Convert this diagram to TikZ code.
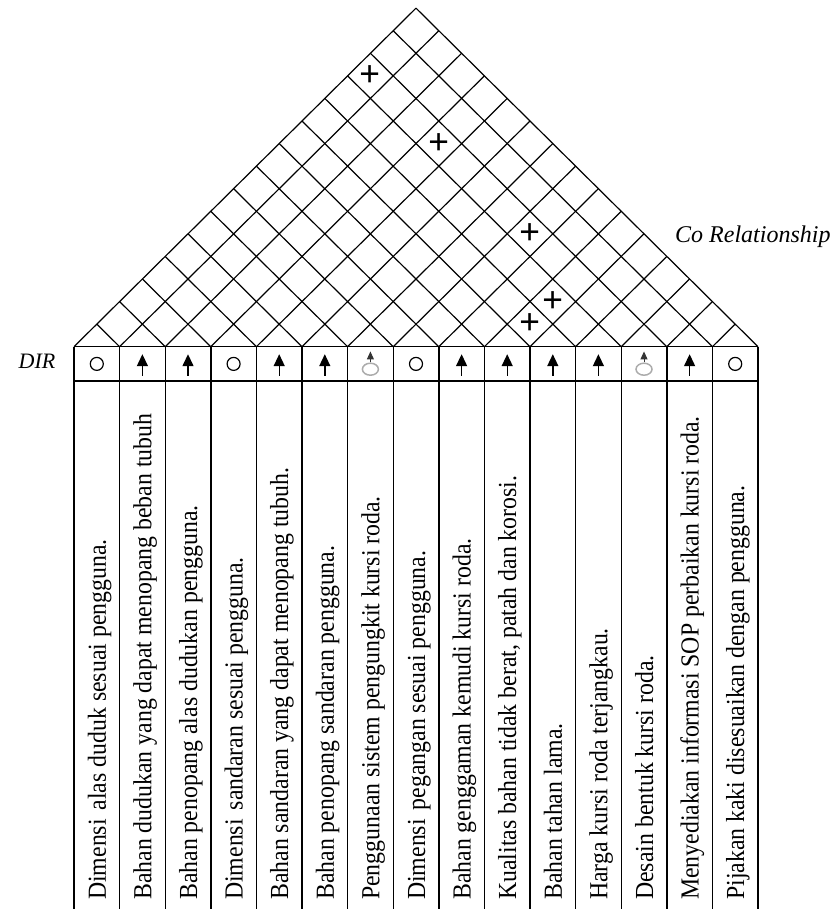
\documentclass[tikz,border=0pt]{standalone}
\usepackage{fontspec}
\setmainfont{Liberation Serif}
\newfontfamily\colfont[FakeStretch=0.915]{Liberation Serif}
\usetikzlibrary{arrows.meta, shapes.geometric}

\newcommand{\colw}{45.6}
\newcommand{\dirO}[1]{\node[dirmark] (d#1) at ({(#1-0.5)*\colw},-17.2) {};}
\newcommand{\dirU}[1]{\coordinate (d#1) at ({(#1-0.5)*\colw},-29); \draw[uparrow] (d#1) -- ++(0,21.5);}
\newcommand{\dirM}[1]{\node[mixmark] (d#1) at ({(#1-0.5)*\colw},-22.5) {}; \draw[smallarrow] (d#1.north) -- ++(0,11);}

\begin{document}
\begin{tikzpicture}[
    x=1pt, y=1pt,
    grid/.style={line width=1.2pt},
    frame/.style={line width=1.4pt},
    plusmark/.style={font=\bfseries\fontsize{37}{37}\selectfont, inner sep=0pt},
    dirmark/.style={circle, draw, line width=1.2pt, minimum size=13pt, inner sep=0pt},
    mixmark/.style={ellipse, draw=gray!65, line width=1.5pt, minimum width=16pt, minimum height=12pt, inner sep=0pt},
    uparrow/.style={-{Triangle[length=12pt, width=11pt]}, line width=1.4pt},
    smallarrow/.style={-{Triangle[length=8pt, width=7pt]}, line width=1pt, black!80},
    req/.style={rotate=90, anchor=base west, inner sep=0pt, font=\colfont\fontsize{26}{26}\selectfont},
    side/.style={font=\itshape, inner sep=0pt},
]

\useasboundingbox (-74,-562.3) rectangle (763,346.7);

\begin{scope}[x=45.6pt, y=45.14pt, grid]
\foreach \i in {0,...,15}{
  \draw (\i,0) -- ({(15+\i)/2},{(15-\i)/2});
  \draw (\i,0) -- ({\i/2},{\i/2});
}
\foreach \a/\b in {0/12, 3/12, 7/12, 9/11, 9/10}
  \node[plusmark] (p\a-\b) at ({(\a+\b+1)/2},{(\b-\a)/2}) {+};
\end{scope}

\draw[frame] (0,0) -- (15*\colw,0);
\draw[frame] (0,-34.3) -- (15*\colw,-34.3);
\foreach \i in {0,...,15}
  \draw[frame] (\i*\colw,0) -- (\i*\colw,-562.3);

\foreach \s [count=\k] in {O,U,U,O,U,U,M,O,U,U,U,U,M,U,O}{
  \csname dir\s\endcsname{\k}
}

\foreach \t [count=\k] in {
    Dimensi \hspace{3pt}alas duduk sesuai pengguna.,
    Bahan dudukan yang dapat menopang beban tubuh,
    Bahan penopang alas dudukan pengguna.,
    Dimensi \hspace{3pt}sandaran sesuai pengguna.,
    Bahan sandaran yang dapat menopang tubuh.,
    Bahan penopang sandaran pengguna.,
    Penggunaan sistem pengungkit kursi roda.,
    Dimensi \hspace{3pt}pegangan sesuai pengguna.,
    Bahan genggaman kemudi kursi roda.,
    {Kualitas bahan tidak berat, patah dan korosi.},
    Bahan tahan lama.,
    Harga kursi roda terjangkau.,
    Desain bentuk kursi roda.,
    Menyediakan informasi SOP perbaikan kursi roda.,
    Pijakan kaki disesuaikan dengan pengguna.}
  \node[req] (r\k) at ({(\k-0.5)*\colw+9},-553.3) {\t};

\node[side, font=\itshape\fontsize{22}{22}\selectfont, anchor=base] (dir) at (-37,-22.3) {DIR};
\node[side, font=\itshape\fontsize{24}{24}\selectfont, anchor=base west] (corel) at (601,103.7) {Co Relationship};

\end{tikzpicture}
\end{document}
